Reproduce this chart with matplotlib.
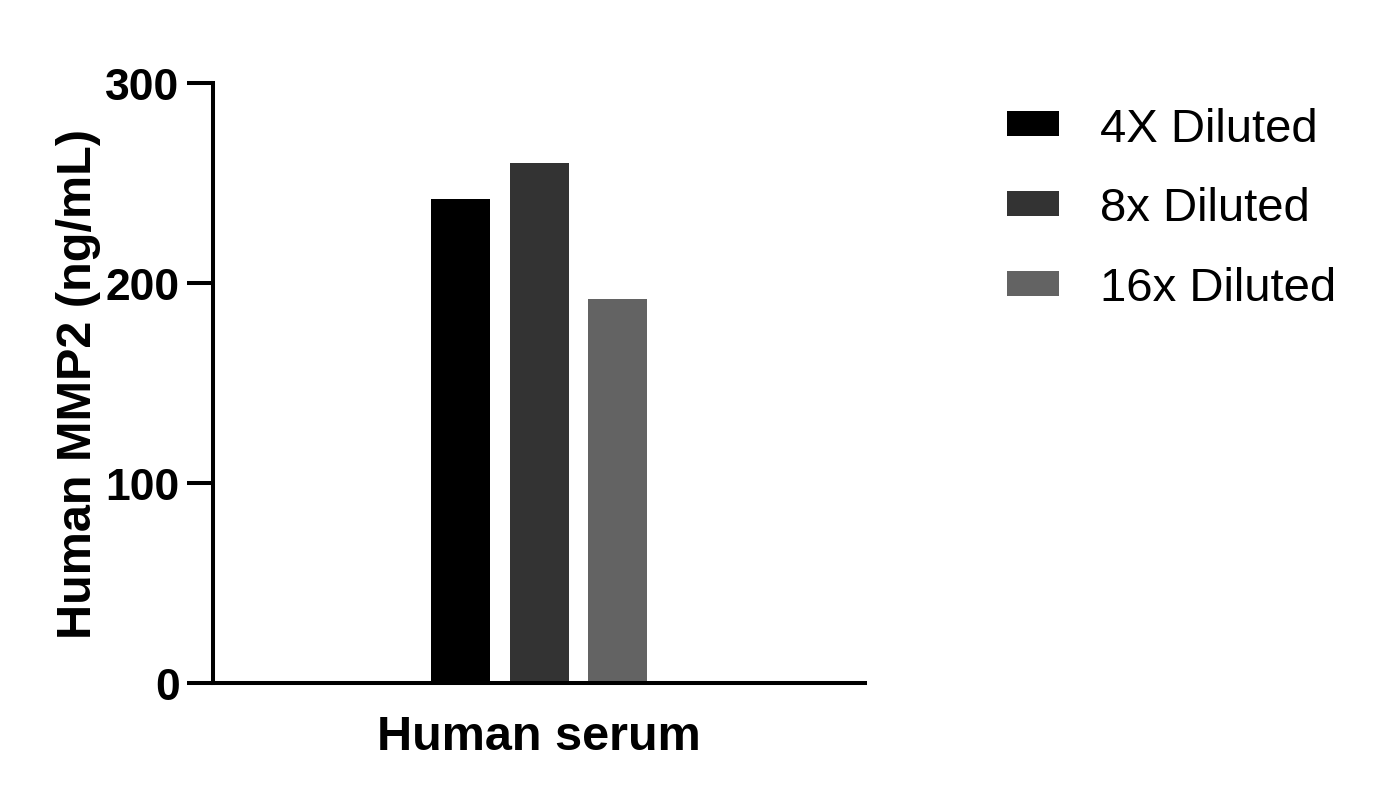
import numpy as np
import matplotlib.pyplot as plt

plt.rcParams['font.family'] = ['Liberation Sans', 'DejaVu Sans']

# data
groups = ['Human serum']
series = ['4X Diluted', '8x Diluted', '16x Diluted']
values = [242, 260, 192]
colors = ['#000000', '#333333', '#636363']

fig = plt.figure(figsize=(13.83, 8.04), dpi=100)
ax = fig.add_axes([0.154, 0.1493, 0.4716, 0.7462])

offsets = np.arange(len(series)) - (len(series) - 1) / 2
for off, v, c, lab in zip(offsets, values, colors, series):
    ax.bar(off, v, width=0.75, color=c, label=lab)

ax.set_xlim(-4.15, 4.15)
ax.set_ylim(0, 300)
ax.set_yticks([0, 100, 200, 300])
ax.set_xticks([0])
ax.set_xticklabels(groups, fontsize=35, fontweight='bold')
ax.tick_params(axis='x', length=0, pad=22)
ax.tick_params(axis='y', length=19, width=2.9, labelsize=32, pad=5)
for t in ax.get_yticklabels():
    t.set_fontweight('bold')

ax.set_ylabel('Human MMP2 (ng/mL)', fontsize=35, fontweight='bold', labelpad=3)

for s in ['top', 'right']:
    ax.spines[s].set_visible(False)
for s in ['left', 'bottom']:
    ax.spines[s].set_linewidth(2.9)

ax.legend(loc='upper left', bbox_to_anchor=(1.174, 1.008), frameon=False,
          fontsize=34, handlelength=1.1, handleheight=0.43,
          handletextpad=0.87, labelspacing=0.76, borderaxespad=0.2)

fig.savefig('out.png', dpi=100)
